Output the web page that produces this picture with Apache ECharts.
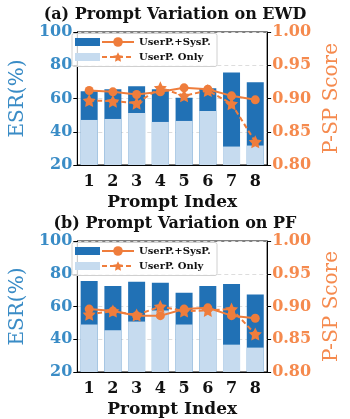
<!DOCTYPE html>
<html>
<head>
<meta charset="utf-8">
<script src="https://cdn.jsdelivr.net/npm/echarts/dist/echarts.min.js"></script>
<style>
  html, body { margin: 0; padding: 0; background: #fff; }
  #chart { width: 350px; height: 419px; }
</style>
</head>
<body>
<div id="chart"></div>
<script>
const promptIdx = ["1", "2", "3", "4", "5", "6", "7", "8"];

// (a) EWD
const ewdBoth = [64.4, 65.5, 67.3, 65.5, 60.4, 66.1, 75.6, 69.7];
const ewdUser = [47.1, 47.7, 51.3, 45.9, 46.5, 52.5, 31.1, 31.7];
const ewdBothScore = [0.912, 0.910, 0.906, 0.910, 0.916, 0.914, 0.904, 0.898];
const ewdUserScore = [0.897, 0.896, 0.893, 0.916, 0.904, 0.912, 0.892, 0.835];

// (b) PF
const pfBoth = [75.5, 72.5, 75.1, 74.5, 68.4, 72.5, 73.7, 67.3];
const pfUser = [49.0, 45.5, 50.8, 57.5, 49.0, 58.5, 36.7, 34.9];
const pfBothScore = [0.896, 0.893, 0.886, 0.886, 0.896, 0.898, 0.886, 0.882];
const pfUserScore = [0.888, 0.893, 0.887, 0.900, 0.893, 0.894, 0.896, 0.858];

const titles = ["(a) Prompt Variation on EWD", "(b) Prompt Variation on PF"];

const FONT = "DejaVu Serif";
const DARK = "#2171b5";
const LIGHT = "#c6dbef";
const ORANGE = "#ef7d3c";
const BLUE_TXT = "#3a8cc6";
const ORANGE_TXT = "#f58a4e";
// five point star, matplotlib '*' marker
const STAR = "path://M0,-10L2.94,-4.05L9.51,-3.09L4.76,1.55L5.88,8.09L0,5.2L-5.88,8.09L-4.76,1.55L-9.51,-3.09L-2.94,-4.05Z";

const grids = [
  { left: 68, width: 222, top: 32, height: 133 },
  { left: 68, width: 222, top: 241, height: 134 }
];

const myChart = echarts.init(document.getElementById("chart"));

let xAxes = [], yAxes = [], series = [], legends = [], graphics = [], titleList = [];
const sets = [
  [ewdBoth, ewdUser, ewdBothScore, ewdUserScore],
  [pfBoth, pfUser, pfBothScore, pfUserScore]
];

// one legend per entry so each row sits exactly where it should
function legendRow(left, centerY, name, isBar) {
  if (isBar) {
    return {
      left: left, top: centerY - 4, padding: 0,
      itemWidth: 25, itemHeight: 8, icon: "rect",
      data: [name], formatter: () => "", selectedMode: false,
      textStyle: { fontSize: 1, lineHeight: 1 }
    };
  }
  return {
    left: left, top: centerY - 6, padding: 0,
    itemWidth: 32, itemHeight: 12,
    data: [name], selectedMode: false,
    textStyle: { fontFamily: FONT, fontWeight: "bold", fontSize: 10, lineHeight: 12, color: "#111" }
  };
}

grids.forEach((g, i) => {
  titleList.push({
    text: titles[i],
    left: "center",
    top: g.top - 30,
    textStyle: { fontFamily: FONT, fontWeight: "bold", fontSize: 16, color: "#111" }
  });

  xAxes.push({
    type: "category",
    gridIndex: i,
    data: promptIdx,
    name: "Prompt Index",
    nameLocation: "middle",
    nameGap: 29,
    nameTextStyle: { fontFamily: FONT, fontWeight: "bold", fontSize: 17, color: "#111" },
    axisLine: { lineStyle: { color: "#000", width: 1 } },
    axisTick: { alignWithLabel: true, length: 4, lineStyle: { color: "#000" } },
    axisLabel: { fontFamily: FONT, fontWeight: "bold", fontSize: 16, color: "#111", margin: 9 }
  });

  yAxes.push({
    type: "value",
    gridIndex: i,
    min: 20,
    max: 100,
    interval: 20,
    name: "ESR(%)",
    nameLocation: "middle",
    nameGap: 42,
    nameTextStyle: { fontFamily: FONT, fontSize: 20, color: BLUE_TXT },
    axisLine: { show: true, lineStyle: { color: "#000" } },
    axisTick: { show: true, length: 4, lineStyle: { color: "#000" } },
    axisLabel: { fontFamily: FONT, fontWeight: "bold", fontSize: 16, color: BLUE_TXT, margin: 5 },
    splitLine: { show: true, lineStyle: { color: "#ddd", type: [4, 3], width: 1 } }
  });
  yAxes.push({
    type: "value",
    gridIndex: i,
    position: "right",
    min: 0.8,
    max: 1.0,
    interval: 0.05,
    name: "P-SP Score",
    nameLocation: "middle",
    nameGap: 44,
    nameRotate: 90,
    nameTextStyle: { fontFamily: FONT, fontSize: 20, color: ORANGE_TXT },
    axisLine: { show: true, lineStyle: { color: "#000" } },
    axisTick: { show: true, length: 4, lineStyle: { color: "#000" } },
    axisLabel: {
      fontFamily: FONT, fontWeight: "bold", fontSize: 16, color: ORANGE_TXT, margin: 5,
      formatter: (v) => v.toFixed(2)
    },
    splitLine: { show: false }
  });

  const [both, user, bothScore, userScore] = sets[i];
  series.push({
    name: "bothBar", type: "bar", xAxisIndex: i, yAxisIndex: 2 * i,
    data: both, barWidth: 17, itemStyle: { color: DARK }, z: 1
  });
  series.push({
    name: "userBar", type: "bar", xAxisIndex: i, yAxisIndex: 2 * i,
    data: user, barWidth: 17, barGap: "-100%", itemStyle: { color: LIGHT }, z: 2
  });
  series.push({
    name: "UserP.+SysP.", type: "line", xAxisIndex: i, yAxisIndex: 2 * i + 1,
    data: bothScore, symbol: "circle", symbolSize: 9,
    lineStyle: { color: ORANGE, width: 2 }, itemStyle: { color: ORANGE }, z: 5
  });
  series.push({
    name: "UserP. Only", type: "line", xAxisIndex: i, yAxisIndex: 2 * i + 1,
    data: userScore, symbol: STAR, symbolSize: 13,
    lineStyle: { color: ORANGE, width: 2, type: [5, 3] }, itemStyle: { color: ORANGE }, z: 4
  });

  // legend frame, like matplotlib's
  graphics.push({
    type: "rect",
    shape: { x: g.left + 4, y: g.top + 1.5, width: 145, height: 33, r: 2 },
    style: { fill: "rgba(255,255,255,0.8)", stroke: "#d0d0d0", lineWidth: 1 },
    z: 3
  });

  const row1 = g.top + 10, row2 = g.top + 25;
  legends.push(legendRow(g.left + 7, row1, "bothBar", true));
  legends.push(legendRow(g.left + 7, row2, "userBar", true));
  legends.push(legendRow(g.left + 33, row1, "UserP.+SysP.", false));
  legends.push(legendRow(g.left + 33, row2, "UserP. Only", false));
});

myChart.setOption({
  animation: false,
  title: titleList,
  grid: grids.map((g) => Object.assign({ show: true, borderColor: "#000", borderWidth: 1, backgroundColor: "transparent" }, g)),
  xAxis: xAxes,
  yAxis: yAxes,
  legend: legends,
  graphic: graphics,
  series: series
});
</script>
</body>
</html>
